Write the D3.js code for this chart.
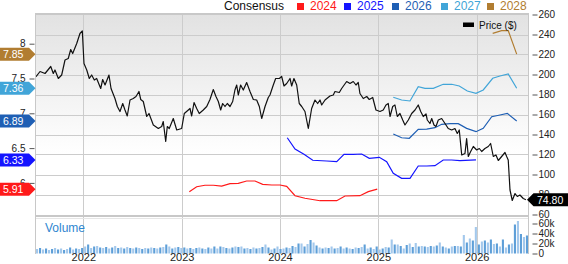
<!DOCTYPE html>
<html><head><meta charset="utf-8">
<script src="https://cdn.jsdelivr.net/npm/d3@7"></script>
<style>
body{margin:0;background:#fff}
svg{display:block;font-family:"Liberation Sans",Arial,Helvetica,sans-serif}
</style>
</head><body>
<svg id="chart" width="568" height="264"></svg>
<script>
// ---------- DATA ----------
const yearTicks = [2022, 2023, 2024, 2025, 2026];
const priceTicks = [60, 80, 100, 120, 140, 160, 180, 200, 220, 240, 260];
const epsTicks = [6, 6.5, 7, 7.5, 8];
const volumeTicks = [0, 20, 40, 60];
const lastPrice = 74.80;

const priceDates = [
2021.519,2021.560,2021.611,2021.644,2021.669,2021.695,2021.712,2021.746,2021.780,2021.814,
2021.847,2021.872,2021.892,2021.933,2021.966,2021.990,2022.007,2022.035,2022.061,2022.085,
2022.112,2022.136,2022.177,2022.197,2022.221,2022.261,2022.282,2022.322,2022.346,2022.373,
2022.401,2022.424,2022.447,2022.475,2022.508,2022.536,2022.566,2022.584,2022.610,2022.645,
2022.668,2022.712,2022.763,2022.797,2022.813,2022.838,2022.854,2022.874,2022.915,2022.950,
2023.000,2023.027,2023.068,2023.085,2023.102,2023.126,2023.153,2023.179,2023.220,2023.255,
2023.288,2023.322,2023.349,2023.373,2023.397,2023.417,2023.441,2023.464,2023.492,2023.519,
2023.542,2023.560,2023.576,2023.600,2023.627,2023.661,2023.695,2023.729,2023.763,2023.790,
2023.814,2023.848,2023.881,2023.898,2023.932,2023.956,2023.993,2024.017,2024.041,2024.068,
2024.102,2024.119,2024.142,2024.170,2024.196,2024.221,2024.254,2024.288,2024.322,2024.356,
2024.383,2024.407,2024.424,2024.458,2024.508,2024.542,2024.559,2024.603,2024.627,2024.678,
2024.712,2024.745,2024.773,2024.796,2024.813,2024.847,2024.882,2024.908,2024.943,2024.976,
2025.017,2025.050,2025.078,2025.101,2025.119,2025.146,2025.169,2025.193,2025.220,2025.248,
2025.271,2025.305,2025.339,2025.373,2025.406,2025.431,2025.457,2025.485,2025.498,2025.525,
2025.543,2025.566,2025.586,2025.610,2025.644,2025.678,2025.711,2025.746,2025.779,2025.803,
2025.823,2025.848,2025.881,2025.898,2025.915,2025.939,2025.966,2026.000,2026.027,2026.051,
2026.084,2026.118,2026.142,2026.169,2026.196,2026.220,2026.254,2026.288,2026.305,2026.321,
2026.339,2026.362,2026.390,2026.413,2026.440,2026.474,2026.501];
const priceValues = [
197.8,203,201,205,208,201,204.5,196,199.5,214.5,
216,225,221,231,241,243.5,211,204.5,196,199.5,
194.5,196,186,195,189.5,199.5,186,176,168,163,
171,164.5,158.5,174.5,176,178,183,175,173,158,
161,149.5,146,148,153,133,148,146,156,144.5,
146,161,164.5,166,158.5,172,166,161,164.5,168,
175,185,178,173,164.5,171,168,171,168,173,
184.5,189.5,179.5,189.5,184.5,192,183,175,174.5,168,
156,168,177,179.5,189.5,196,196,198,188.5,191,
196,188.5,196,189.5,171,168,163,146,166,174.5,
171,174.5,169.5,174.5,178.5,179.5,183,182,186,193,
191,193,189.5,192,181,176,178,175,177,164.5,
163,164.5,169.5,171,158,168,169.5,158,161,154.5,
149.5,154.5,161,164.5,169.5,163,158,160.5,154.5,151,
156,149.5,148,154.5,156,151,146,144.5,146,141,
144.5,119.5,121,136,118,123,128,124.5,126,123,
126,128,131,118,119.5,114,118,122,118,114.5,
84.5,74,81,78,79.5,76,74.8];

const consensusYears = ["2024", "2025", "2026", "2027", "2028"];
const eps2024Dates = [2023.078,2023.153,2023.237,2023.322,2023.407,2023.492,2023.576,2023.661,2023.746,2023.824,2023.916,2024.000,2024.068,2024.153,2024.254,2024.407,2024.577,2024.661,2024.813,2024.898,2024.989];
const eps2024Values = [5.874,5.945,5.966,5.966,5.955,5.989,5.994,6.027,6.027,5.980,5.970,5.970,5.951,5.816,5.779,5.744,5.744,5.812,5.816,5.874,5.91];
const eps2025Dates = [2024.074,2024.153,2024.244,2024.333,2024.475,2024.577,2024.651,2024.745,2024.831,2024.908,2025.010,2025.085,2025.152,2025.237,2025.322,2025.406,2025.492,2025.576,2025.660,2025.746,2025.830,2025.993];
const eps2025Values = [6.649,6.487,6.411,6.325,6.315,6.305,6.411,6.411,6.415,6.353,6.368,6.305,6.138,6.066,6.066,6.243,6.243,6.247,6.329,6.329,6.319,6.33];
const eps2026Dates = [2025.152,2025.237,2025.315,2025.406,2025.492,2025.576,2025.644,2025.729,2025.813,2025.898,2025.993,2026.067,2026.153,2026.237,2026.311,2026.407];
const eps2026Values = [6.703,6.649,6.641,6.770,6.774,6.793,6.842,6.851,6.851,6.784,6.736,6.784,6.951,6.976,7.000,6.89];
const eps2027Dates = [2025.152,2025.237,2025.322,2025.406,2025.474,2025.559,2025.660,2025.746,2025.823,2025.905,2025.993,2026.067,2026.163,2026.237,2026.321,2026.407];
const eps2027Values = [7.230,7.191,7.177,7.382,7.359,7.359,7.417,7.417,7.392,7.320,7.287,7.335,7.503,7.536,7.565,7.36];
const eps2028Dates = [2026.163,2026.254,2026.321,2026.407];
const eps2028Values = [8.149,8.187,8.187,7.85];
const latestEps = [5.91, 6.33, 6.89, 7.36, 7.85];

// volume in thousands, oldest first
const volumeK = [
9,11,8,10,7,9,11,8,10,7,9,12,8,10,9,11,
14,18,11,14,15,12,
11,13,10,12,15,11,12,10,13,11,
10,12,11,9,11,10,12,11,10,12,13,
18,14,
10,12,13,11,12,10,11,9,11,
12,10,9,12,10,14,10,14,13,11,10,12,14,13,14,10,11,9,12,10,
11,13,18,12,8,10,14,9,10,12,11,15,13,20,20,14,19,27,22,16,
12,10,12,11,14,10,11,14,10,12,10,9,12,11,13,18,
10,12,9,14,8,10,13,12,28,18,18,15,10,17,20,13,21,14,15,14,
13,15,14,16,22,14,12,10,14,15,15,14,37,22,30,26,53,18,24,26,
22,28,19,20,14,28,12,18,20,58,65,39,33,36];

// ---------- STYLE ----------
const seriesColors = ["#ff1a1a", "#1414ff", "#1f5fb4", "#41a5d8", "#b17d31"];
const L = 36, R = 528, T = 14.5, B = 214.5;

const svg = d3.select("#chart");
const defs = svg.append("defs");
const grad = defs.append("linearGradient").attr("id", "bg").attr("x1", 0).attr("y1", 0).attr("x2", 0).attr("y2", 1);
grad.append("stop").attr("offset", "0%").attr("stop-color", "#e2e2e2");
grad.append("stop").attr("offset", "70%").attr("stop-color", "#ffffff");
defs.append("clipPath").attr("id", "clip").append("rect").attr("x", L).attr("y", T).attr("width", R - L).attr("height", B - T);

const x = d3.scaleLinear().domain([2021.519, 2026.522]).range([L, R]);
const yP = d3.scaleLinear().domain([60, 260]).range([B, T]);
const yE = d3.scaleLinear().domain([6, 8]).range([182.9, 43.7]);
const yV = d3.scaleLinear().domain([0, 60]).range([253.5, 223.5]);
const xb = d3.scaleBand().domain(d3.range(volumeK.length)).range([L, R]).paddingInner(0.3);

// backgrounds
svg.append("rect").attr("x", L).attr("y", T).attr("width", R - L).attr("height", B - T).attr("fill", "url(#bg)");

// grid
const grid = svg.append("g").attr("stroke", "#cccccc").attr("stroke-width", 1).attr("shape-rendering", "crispEdges");
grid.selectAll("line.h").data(priceTicks.filter(d => d > 60 && d < 260)).join("line")
  .attr("x1", L).attr("x2", R).attr("y1", d => Math.round(yP(d)) + 0.5).attr("y2", d => Math.round(yP(d)) + 0.5);
grid.selectAll("line.v").data(yearTicks).join("line")
  .attr("x1", d => Math.round(x(d)) + 0.5).attr("x2", d => Math.round(x(d)) + 0.5).attr("y1", T).attr("y2", 254);

// frame
const frame = svg.append("g").attr("stroke", "#c8c8c8").attr("fill", "none").attr("shape-rendering", "crispEdges");
frame.append("line").attr("x1", L).attr("x2", R).attr("y1", 14).attr("y2", 14).attr("stroke-width", 2);
frame.append("line").attr("x1", L - 0.5).attr("x2", L - 0.5).attr("y1", 13).attr("y2", 254);
frame.append("line").attr("x1", R + 0.5).attr("x2", R + 0.5).attr("y1", 13).attr("y2", 254);
frame.append("line").attr("x1", L).attr("x2", R).attr("y1", 216).attr("y2", 216).attr("stroke-width", 2);
frame.append("line").attr("x1", L).attr("x2", R).attr("y1", 218.5).attr("y2", 218.5).attr("stroke", "#e6e6e6");

// volume bars
svg.append("g").selectAll("rect").data(volumeK).join("rect")
  .attr("x", (d, i) => xb(i)).attr("width", xb.bandwidth())
  .attr("y", d => yV(d)).attr("height", d => yV(0) - yV(d))
  .attr("fill", (d, i) => i % 2 ? "#5e9fd8" : "#a3c8ec");

svg.append("text").attr("x", 45).attr("y", 232).attr("font-size", 12).attr("fill", "#2f86d0").text("Volume");

// consensus lines
const plot = svg.append("g").attr("clip-path", "url(#clip)");
const epsSeries = [
  [eps2024Dates, eps2024Values], [eps2025Dates, eps2025Values], [eps2026Dates, eps2026Values],
  [eps2027Dates, eps2027Values], [eps2028Dates, eps2028Values]];
const lineE = d3.line().x(d => x(d[0])).y(d => yE(d[1]));
epsSeries.forEach((s, k) => {
  plot.append("path").datum(d3.zip(s[0], s[1])).attr("d", lineE)
    .attr("fill", "none").attr("stroke", seriesColors[k]).attr("stroke-width", 1.2);
});

// price line
const lineP = d3.line().x(d => x(d[0])).y(d => yP(d[1]));
plot.append("path").datum(d3.zip(priceDates, priceValues)).attr("d", lineP)
  .attr("fill", "none").attr("stroke", "#111").attr("stroke-width", 1.2).attr("stroke-linejoin", "round");

// axes
const axisStyle = g => {
  g.select(".domain").remove();
  g.selectAll(".tick line").attr("stroke", "#555");
  g.selectAll(".tick text").attr("fill", "#222").attr("font-size", 10)
    .attr("font-family", '"Liberation Sans",Arial,sans-serif');
};
svg.append("g").attr("transform", "translate(532.5,0)")
  .call(d3.axisRight(yP).tickValues(priceTicks).tickSize(5).tickPadding(1)).call(axisStyle);
svg.append("g").attr("transform", "translate(532.5,0)")
  .call(d3.axisRight(yV).tickValues(volumeTicks).tickSize(5).tickPadding(1).tickFormat(d => d === 0 ? "0" : d + "k")).call(axisStyle);
svg.append("g").attr("transform", "translate(34.5,0)")
  .call(d3.axisLeft(yE).tickValues(epsTicks).tickSize(5).tickPadding(4).tickFormat(d3.format("~g"))).call(axisStyle);
svg.append("g").attr("transform", "translate(0,251)")
  .call(d3.axisBottom(x).tickValues(yearTicks).tickSize(0).tickPadding(2).tickFormat(d3.format("d"))).call(axisStyle)
  .selectAll(".tick text").attr("font-size", 11);

// left EPS badges
const badges = svg.append("g");
latestEps.forEach((v, k) => {
  const cy = yE(v);
  badges.append("path")
    .attr("d", `M0,${cy - 6.5}H29L35.5,${cy}L29,${cy + 6.5}H0Z`)
    .attr("fill", seriesColors[k]);
  badges.append("text").attr("x", 3).attr("y", cy + 4).attr("font-size", 10.5).attr("fill", "#fff")
    .text(d3.format(".2f")(v));
});

// price badge
const py = yP(lastPrice);
svg.append("path").attr("d", `M527,${py}L533.5,${py - 6.5}H568V${py + 6.5}H533.5Z`).attr("fill", "#000");
svg.append("text").attr("x", 537).attr("y", py + 4).attr("font-size", 10.5).attr("fill", "#fff").text(d3.format(".2f")(lastPrice));

// top legend
const leg = svg.append("g").attr("font-size", 12);
leg.append("text").attr("x", 224).attr("y", 10).attr("fill", "#111").text("Consensus");
const legX = [297, 344, 392, 441, 487];
consensusYears.forEach((yr, k) => {
  leg.append("rect").attr("x", legX[k]).attr("y", 3).attr("width", 7).attr("height", 7).attr("fill", seriesColors[k]);
  leg.append("text").attr("x", legX[k] + 13).attr("y", 10).attr("fill", seriesColors[k]).text(yr);
});

// price legend
svg.append("rect").attr("x", 463).attr("y", 22.5).attr("width", 11).attr("height", 4.5).attr("fill", "#000");
svg.append("text").attr("x", 479).attr("y", 29).attr("font-size", 10).attr("fill", "#111").text("Price ($)");
</script>
</body></html>
